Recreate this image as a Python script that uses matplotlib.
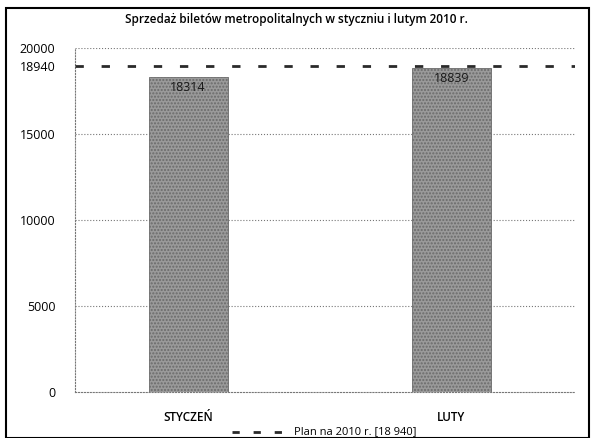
import matplotlib
matplotlib.use('Agg')
import matplotlib.pyplot as plt
from matplotlib.patches import Rectangle
from matplotlib.lines import Line2D

plt.rcParams['font.family'] = ['Open Sans', 'DejaVu Sans']

# data
months = ['STYCZEŃ', 'LUTY']
sales = [18314, 18839]
plan = 18940
yticks = [0, 5000, 10000, 15000, 18940, 20000]

fig = plt.figure(figsize=(5.92, 4.38), dpi=100)
ax = fig.add_axes([75 / 592, 1 - 392 / 438, 500 / 592, 344 / 438])

# frame around the whole chart
fig.patches.append(Rectangle((6 / 592, 0.0), 583 / 592, 1 - 8 / 438, transform=fig.transFigure,
                             fill=False, edgecolor='black', linewidth=1.5))

x = range(len(months))
ax.bar(x, sales, width=0.3, color='#9a9a9a', edgecolor='#6a6a6a', hatch='.....', linewidth=0.6, zorder=2)
for xi, v in zip(x, sales):
    ax.text(xi, v - 250, str(v), ha='center', va='top', fontsize=9, color='#1a1a1a', zorder=3)

dash = (0, (3, 6.4))
ax.axhline(plan, color='#2a2a2a', linestyle=dash, linewidth=2, zorder=3)

for g in [5000, 10000, 15000, 20000]:
    ax.axhline(g, color='#777777', linestyle=':', linewidth=0.8, zorder=1)

ax.set_xlim(-0.43, 1.47)
ax.set_ylim(0, 20000)
ax.set_yticks(yticks)
ax.set_yticklabels([str(t) for t in yticks], fontsize=9)
ax.set_xticks(list(x))
ax.set_xticklabels(months, fontsize=8.5, fontweight='semibold')
ax.tick_params(length=0, pad=14)
ax.tick_params(axis='y', pad=14)

for s in ['top', 'right']:
    ax.spines[s].set_visible(False)
ax.spines['left'].set_linestyle(':')
ax.spines['left'].set_color('#777777')
ax.spines['bottom'].set_linestyle(':')
ax.spines['bottom'].set_color('#777777')

fig.text(0.5, 1 - 20 / 438, 'Sprzedaż biletów metropolitalnych w styczniu i lutym 2010 r.',
         ha='center', va='center', fontsize=8.5, fontweight='semibold')

# legend
fig.lines.append(Line2D([232 / 592, 286 / 592], [1 - 432 / 438] * 2, transform=fig.transFigure,
                        color='#2a2a2a', linestyle=(0, (2.6, 5)), linewidth=2))
fig.text(294 / 592, 1 - 432 / 438, 'Plan na 2010 r. [18 940]', ha='left', va='center', fontsize=8)

fig.savefig('out.png', dpi=100)
